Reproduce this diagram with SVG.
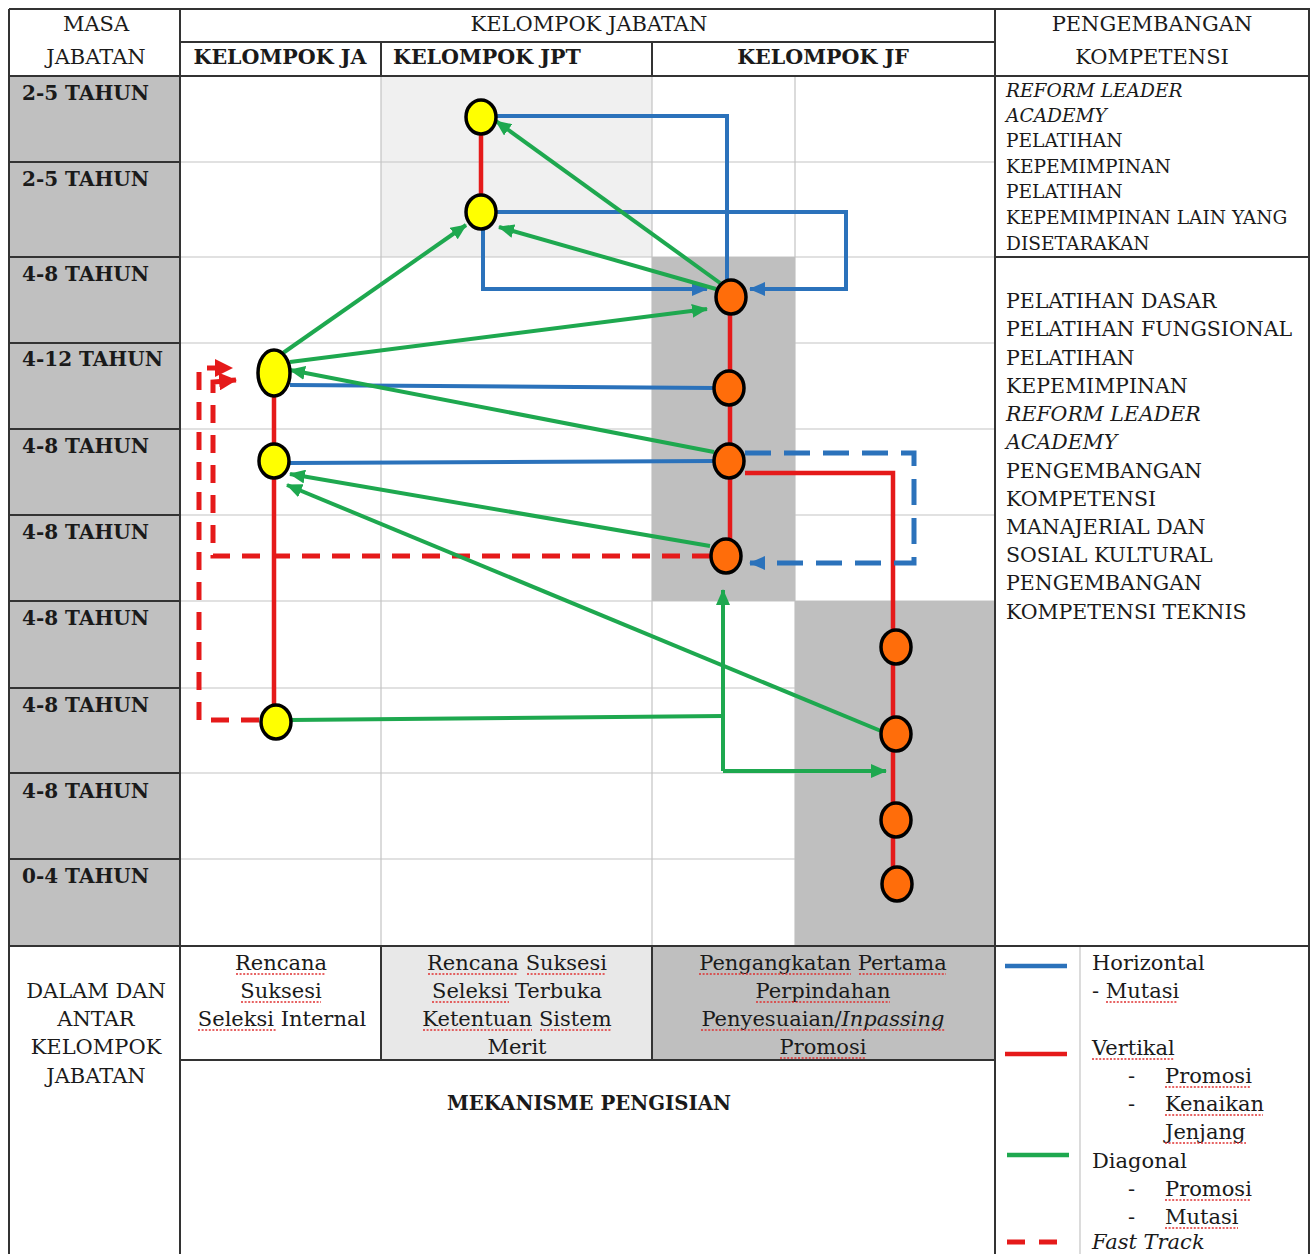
<svg xmlns="http://www.w3.org/2000/svg" width="1313" height="1254" viewBox="0 0 1313 1254">
<defs>
<style>
text{font-family:"DejaVu Serif","Liberation Serif",serif;fill:#1a1a1a}
.h{font-size:21px}
.b{font-size:20.6px;font-weight:bold}
.m{font-size:19.7px;font-weight:bold}
.r{font-size:20px;font-weight:bold}
.t1{font-size:18.6px}
.t2{font-size:20.5px}
.c{font-size:21px}
.it{font-style:italic}
.dk{stroke:#333;stroke-width:2;fill:none}
.lt{stroke:#c4c4c4;stroke-width:1.2;fill:none}
.sp{stroke:#e03030;stroke-width:1.6;fill:none;stroke-dasharray:2 1.6}
.red{stroke:#e51a1a;stroke-width:4.5;fill:none}
.blue{stroke:#2b72bb;stroke-width:4;fill:none}
.green{stroke:#1ea84f;stroke-width:4;fill:none}
.rd{stroke:#e51a1a;stroke-width:5;fill:none;stroke-dasharray:18 12}
.bd{stroke:#2b72bb;stroke-width:5;fill:none;stroke-dasharray:26 13}
.y{fill:#ffff00;stroke:#000;stroke-width:3.5}
.o{fill:#ff6d0a;stroke:#000;stroke-width:3.5}
</style>
<marker id="ag" markerUnits="userSpaceOnUse" markerWidth="16" markerHeight="14" refX="15" refY="7" orient="auto"><path d="M0,0 L16,7 L0,14 z" fill="#1ea84f"/></marker>
<marker id="ab" markerUnits="userSpaceOnUse" markerWidth="16" markerHeight="14" refX="15" refY="7" orient="auto"><path d="M0,0 L16,7 L0,14 z" fill="#2b72bb"/></marker>
<marker id="ar" markerUnits="userSpaceOnUse" markerWidth="18" markerHeight="18" refX="17" refY="9" orient="auto"><path d="M0,0 L18,9 L0,18 z" fill="#e51a1a"/></marker>
</defs>

<g id="table">
<rect x="0" y="0" width="1313" height="1254" fill="#fff"/>
<rect x="9" y="76" width="171" height="870" fill="#c0c0c0"/>
<rect x="381" y="76" width="271" height="181" fill="#f0f0f0"/>
<path class="lt" d="M180,162H995M180,257H995M180,343H995M180,429H995M180,515H995M180,601H995M180,688H995M180,773H995M180,859H995M381,76V946M652,76V946M795,76V946"/>
<rect x="652" y="257" width="143" height="344" fill="#bfbfbf"/>
<rect x="795" y="601" width="200" height="345" fill="#bfbfbf"/>
<rect x="381" y="946" width="271" height="114" fill="#e8e8e8"/>
<rect x="652" y="946" width="343" height="114" fill="#bfbfbf"/>
<path class="lt" d="M1080,946V1254"/>
<path class="dk" d="M9,9H1309V1256M9,9V1256M180,42H995M9,76H1309M180,9V1256M995,9V1256M381,42V76M652,42V76M995,257H1309M9,946H1309M381,946V1060M652,946V1060M180,1060H995"/>
<path class="dk" d="M9,162H180M9,257H180M9,343H180M9,429H180M9,515H180M9,601H180M9,688H180M9,773H180M9,859H180"/>
</g>

<g id="headers">
<text class="h" x="96" y="31" text-anchor="middle">MASA</text>
<text class="h" x="96" y="64" text-anchor="middle">JABATAN</text>
<text class="h" x="589" y="31" text-anchor="middle">KELOMPOK JABATAN</text>
<text class="h" x="1152" y="31" text-anchor="middle">PENGEMBANGAN</text>
<text class="h" x="1152" y="64" text-anchor="middle">KOMPETENSI</text>
<text class="b" x="280" y="64" text-anchor="middle">KELOMPOK JA</text>
<text class="b" x="393" y="64">KELOMPOK JPT</text>
<text class="b" x="823" y="64" text-anchor="middle">KELOMPOK JF</text>
</g>

<g id="rows">
<text class="r" x="22" y="100">2-5 TAHUN</text>
<text class="r" x="22" y="186">2-5 TAHUN</text>
<text class="r" x="22" y="281">4-8 TAHUN</text>
<text class="r" x="22" y="366">4-12 TAHUN</text>
<text class="r" x="22" y="453">4-8 TAHUN</text>
<text class="r" x="22" y="539">4-8 TAHUN</text>
<text class="r" x="22" y="625">4-8 TAHUN</text>
<text class="r" x="22" y="712">4-8 TAHUN</text>
<text class="r" x="22" y="798">4-8 TAHUN</text>
<text class="r" x="22" y="883">0-4 TAHUN</text>
</g>

<g id="kompetensi">
<text class="t1 it" x="1006" y="97">REFORM LEADER</text>
<text class="t1 it" x="1006" y="122">ACADEMY</text>
<text class="t1" x="1006" y="147">PELATIHAN</text>
<text class="t1" x="1006" y="173">KEPEMIMPINAN</text>
<text class="t1" x="1006" y="198">PELATIHAN</text>
<text class="t1" x="1006" y="224">KEPEMIMPINAN LAIN YANG</text>
<text class="t1" x="1006" y="250">DISETARAKAN</text>
<text class="t2" x="1006" y="308">PELATIHAN DASAR</text>
<text class="t2" x="1006" y="336">PELATIHAN FUNGSIONAL</text>
<text class="t2" x="1006" y="365">PELATIHAN</text>
<text class="t2" x="1006" y="393">KEPEMIMPINAN</text>
<text class="t2 it" x="1006" y="421">REFORM LEADER</text>
<text class="t2 it" x="1006" y="449">ACADEMY</text>
<text class="t2" x="1006" y="478">PENGEMBANGAN</text>
<text class="t2" x="1006" y="506">KOMPETENSI</text>
<text class="t2" x="1006" y="534">MANAJERIAL DAN</text>
<text class="t2" x="1006" y="562">SOSIAL KULTURAL</text>
<text class="t2" x="1006" y="590">PENGEMBANGAN</text>
<text class="t2" x="1006" y="619">KOMPETENSI TEKNIS</text>
</g>

<g id="bottom">
<text class="c" x="96" y="998" text-anchor="middle">DALAM DAN</text>
<text class="c" x="96" y="1026" text-anchor="middle">ANTAR</text>
<text class="c" x="96" y="1054" text-anchor="middle">KELOMPOK</text>
<text class="c" x="96" y="1083" text-anchor="middle">JABATAN</text>
<text class="c" x="281" y="970" text-anchor="middle">Rencana</text>
<text class="c" x="281" y="998" text-anchor="middle">Suksesi</text>
<text class="c" x="282" y="1026" text-anchor="middle">Seleksi Internal</text>
<text class="c" x="517" y="970" text-anchor="middle">Rencana Suksesi</text>
<text class="c" x="517" y="998" text-anchor="middle">Seleksi Terbuka</text>
<text class="c" x="517" y="1026" text-anchor="middle">Ketentuan Sistem</text>
<text class="c" x="517" y="1054" text-anchor="middle">Merit</text>
<text class="c" x="823" y="970" text-anchor="middle">Pengangkatan Pertama</text>
<text class="c" x="823" y="998" text-anchor="middle">Perpindahan</text>
<text class="c" x="823" y="1026" text-anchor="middle">Penyesuaian/<tspan class="it">Inpassing</tspan></text>
<text class="c" x="823" y="1054" text-anchor="middle">Promosi</text>
<text class="m" x="589" y="1110" text-anchor="middle">MEKANISME PENGISIAN</text>
<path class="sp" d="M236,974H326M241,1002H321M198,1030H277M428,974H517M527,974H606M432,1002H509M423,1030H532M540,1030H611M699,974H851M859,974H946M756,1002H890M701,1030H945M780,1058H866"/>
</g>

<g id="legend">
<path d="M1005,966H1067" stroke="#2b72bb" stroke-width="4.5"/>
<path d="M1005,1054H1067" stroke="#e51a1a" stroke-width="4.5"/>
<path d="M1007,1155H1069" stroke="#1ea84f" stroke-width="4.5"/>
<path d="M1007,1242H1060" stroke="#e51a1a" stroke-width="5" stroke-dasharray="18 14"/>
<text class="c" x="1092" y="970">Horizontal</text>
<text class="c" x="1092" y="998">- Mutasi</text>
<text class="c" x="1092" y="1055">Vertikal</text>
<text class="c" x="1128" y="1083">-</text>
<text class="c" x="1165" y="1083">Promosi</text>
<text class="c" x="1128" y="1111">-</text>
<text class="c" x="1165" y="1111">Kenaikan</text>
<text class="c" x="1165" y="1139">Jenjang</text>
<text class="c" x="1092" y="1168">Diagonal</text>
<text class="c" x="1128" y="1196">-</text>
<text class="c" x="1165" y="1196">Promosi</text>
<text class="c" x="1128" y="1224">-</text>
<text class="c" x="1165" y="1224">Mutasi</text>
<text class="c it" x="1092" y="1249">Fast Track</text>
<path class="sp" d="M1106,1002H1178M1092,1059H1174M1165,1087H1251M1165,1115H1263M1165,1143H1246M1165,1200H1251M1165,1228H1238"/>
</g>

<g id="connectors">
<path class="red" d="M481,117V212"/>
<path class="red" d="M274,373V722"/>
<path class="red" d="M730,297V556"/>
<path class="red" d="M745,473H893V884"/>
<path class="rd" d="M259,720H199V368H232" marker-end="url(#ar)"/>
<path class="rd" d="M710,556H213V382L236,380" marker-end="url(#ar)"/>
<path class="blue" d="M496,116H727V281"/>
<path class="blue" d="M496,212H846V289H750" marker-end="url(#ab)"/>
<path class="blue" d="M483,229V289H707" marker-end="url(#ab)"/>
<path class="blue" d="M290,385L714,388"/>
<path class="blue" d="M290,463L714,461"/>
<path class="bd" d="M745,453H914V563H750" marker-end="url(#ab)"/>
<path class="green" d="M720,283L496,121" marker-end="url(#ag)"/>
<path class="green" d="M716,289L499,227" marker-end="url(#ag)"/>
<path class="green" d="M283,353L466,225" marker-end="url(#ag)"/>
<path class="green" d="M290,362L707,309" marker-end="url(#ag)"/>
<path class="green" d="M714,452L290,370" marker-end="url(#ag)"/>
<path class="green" d="M710,546L290,474" marker-end="url(#ag)"/>
<path class="green" d="M881,731L287,485" marker-end="url(#ag)"/>
<path class="green" d="M291,720L723,716" stroke-width="5.5"/>
<path class="green" d="M723,771V590" marker-end="url(#ag)"/>
<path class="green" d="M723,771H886" marker-end="url(#ag)"/>
</g>

<g id="node-jpt1"><ellipse class="y" cx="481" cy="117" rx="15" ry="17"/></g>
<g id="node-jpt2"><ellipse class="y" cx="481" cy="212" rx="15" ry="17"/></g>
<g id="node-ja1"><ellipse class="y" cx="274" cy="373" rx="16" ry="23"/></g>
<g id="node-ja2"><ellipse class="y" cx="274" cy="461" rx="15" ry="17"/></g>
<g id="node-ja3"><ellipse class="y" cx="276" cy="722" rx="15" ry="17"/></g>
<g id="node-jf1"><ellipse class="o" cx="731" cy="297" rx="15" ry="17"/></g>
<g id="node-jf2"><ellipse class="o" cx="729" cy="388" rx="15" ry="17"/></g>
<g id="node-jf3"><ellipse class="o" cx="729" cy="461" rx="15" ry="17"/></g>
<g id="node-jf4"><ellipse class="o" cx="726" cy="556" rx="15" ry="17"/></g>
<g id="node-jf5"><ellipse class="o" cx="896" cy="647" rx="15" ry="17"/></g>
<g id="node-jf6"><ellipse class="o" cx="896" cy="734" rx="15" ry="17"/></g>
<g id="node-jf7"><ellipse class="o" cx="896" cy="820" rx="15" ry="17"/></g>
<g id="node-jf8"><ellipse class="o" cx="897" cy="884" rx="15" ry="17"/></g>
</svg>
